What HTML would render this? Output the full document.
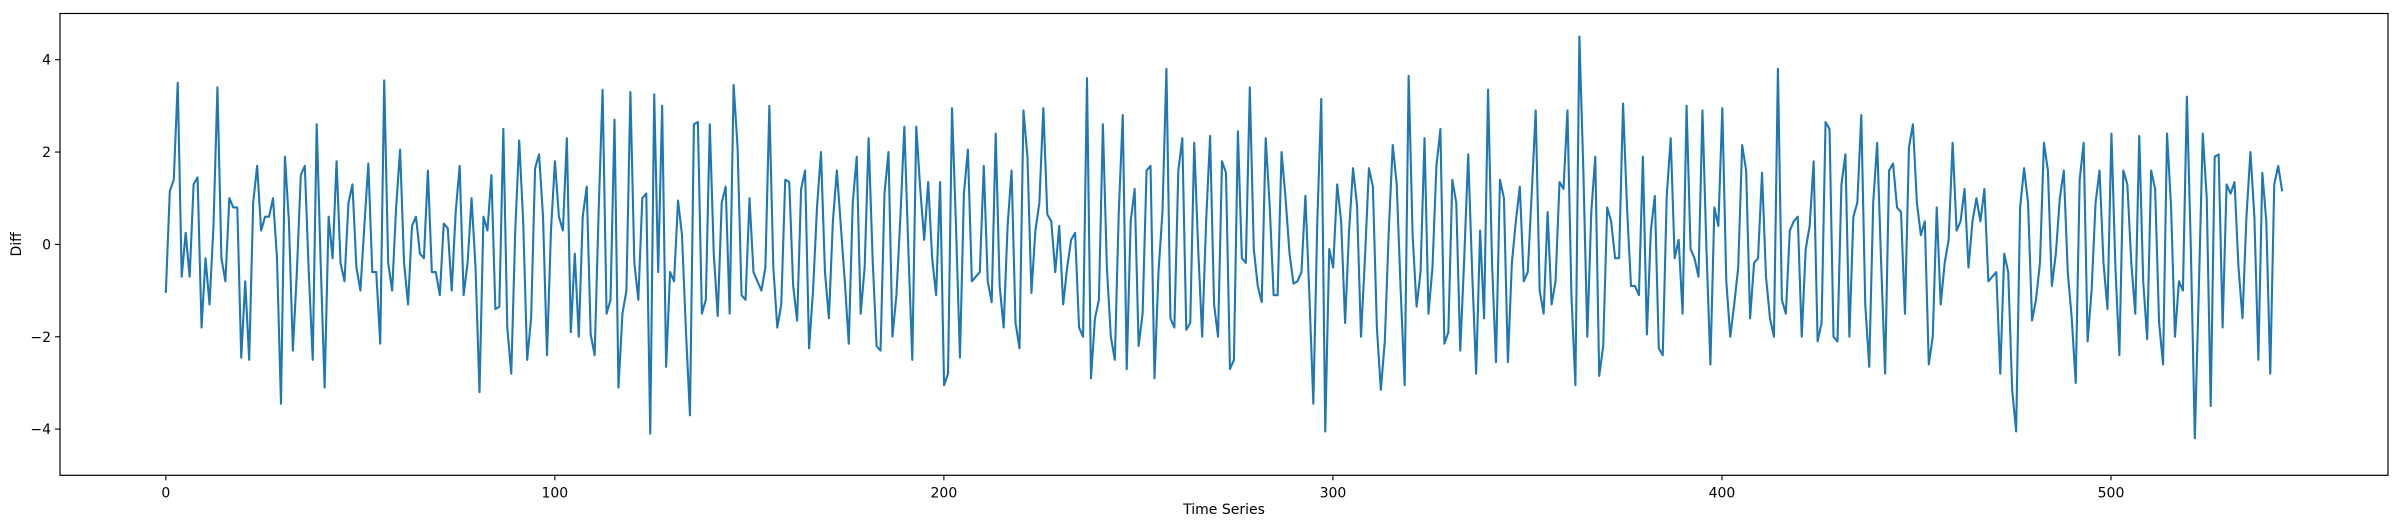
<!DOCTYPE html>
<html><head><meta charset="utf-8"><style>
html,body{margin:0;padding:0;background:#fff;}
svg{display:block;font-family:"DejaVu Sans","Liberation Sans",sans-serif;}
</style></head><body>
<svg id="chart" width="2398" height="528" viewBox="0 0 2398 528" xmlns="http://www.w3.org/2000/svg"></svg>
<script>
const xTicks = [0, 100, 200, 300, 400, 500];
const yTicks = [-4, -2, 0, 2, 4];
const diffValues = [-1.05,1.15,1.4,3.5,-0.7,0.25,-0.7,1.3,1.45,-1.8,-0.3,-1.3,0.4,3.4,-0.3,-0.8,1.0,0.8,0.8,-2.45,-0.8,-2.5,0.9,1.7,0.3,0.6,0.6,1.0,-0.3,-3.45,1.9,0.5,-2.3,-0.6,1.5,1.7,-0.6,-2.5,2.6,-0.4,-3.1,0.6,-0.3,1.8,-0.4,-0.8,0.9,1.3,-0.5,-1.0,0.4,1.75,-0.6,-0.6,-2.15,3.55,-0.4,-1.0,0.8,2.05,-0.4,-1.3,0.4,0.6,-0.2,-0.3,1.6,-0.6,-0.6,-1.1,0.45,0.35,-1.0,0.7,1.7,-1.1,-0.4,1.0,-0.5,-3.2,0.6,0.3,1.5,-1.4,-1.35,2.5,-1.8,-2.8,0.3,2.25,0.5,-2.5,-1.6,1.65,1.95,0.6,-2.4,0.3,1.8,0.6,0.3,2.3,-1.9,-0.2,-2.0,0.6,1.25,-1.95,-2.4,0.7,3.35,-1.5,-1.2,2.7,-3.1,-1.5,-1.0,3.3,-0.4,-1.2,1.0,1.1,-4.1,3.25,-0.6,3.0,-2.65,-0.6,-0.8,0.95,0.2,-1.9,-3.7,2.6,2.65,-1.5,-1.2,2.6,-0.2,-1.55,0.9,1.25,-1.5,3.45,2.1,-1.1,-1.2,1.0,-0.6,-0.8,-1.0,-0.5,3.0,-0.5,-1.8,-1.3,1.4,1.35,-0.9,-1.65,1.2,1.6,-2.25,-1.0,0.8,2.0,-0.6,-1.6,0.5,1.6,0.4,-0.8,-2.15,0.9,1.9,-1.5,-0.5,2.3,-0.3,-2.2,-2.3,1.1,2.0,-2.0,-1.1,0.6,2.55,-0.1,-2.5,2.55,1.2,0.1,1.35,-0.3,-1.1,1.35,-3.05,-2.8,2.95,0.4,-2.45,1.1,2.05,-0.8,-0.7,-0.6,1.7,-0.8,-1.25,2.4,-0.9,-1.8,0.4,1.6,-1.7,-2.25,2.9,1.9,-1.05,0.3,0.9,2.95,0.65,0.5,-0.6,0.4,-1.3,-0.5,0.1,0.25,-1.8,-2.0,3.6,-2.9,-1.6,-1.2,2.6,-0.5,-2.0,-2.5,0.7,2.8,-2.7,0.5,1.2,-2.2,-1.5,1.6,1.7,-2.9,-0.6,0.7,3.8,-1.6,-1.8,1.6,2.3,-1.85,-1.7,2.2,-0.1,-2.0,0.5,2.35,-1.3,-2.0,1.8,1.55,-2.7,-2.5,2.45,-0.3,-0.4,3.4,-0.1,-0.9,-1.25,2.3,0.85,-1.1,-1.1,2.0,1.0,-0.2,-0.85,-0.8,-0.6,1.05,-1.1,-3.45,0.5,3.15,-4.05,-0.1,-0.5,1.3,0.5,-1.7,0.3,1.65,0.85,-2.0,-0.3,1.65,1.25,-1.8,-3.15,-2.1,0.3,2.15,1.3,-1.0,-3.05,3.65,0.2,-1.35,-0.6,2.3,-1.5,-0.5,1.7,2.5,-2.15,-1.9,1.4,0.9,-2.3,-0.3,1.95,-0.6,-2.8,0.3,-1.6,3.35,-0.4,-2.55,1.4,1.0,-2.55,-0.4,0.5,1.25,-0.8,-0.6,1.1,2.9,-1.0,-1.5,0.7,-1.3,-0.8,1.35,1.2,2.9,-1.1,-3.05,4.5,1.6,-2.0,0.7,1.9,-2.85,-2.2,0.8,0.5,-0.3,-0.3,3.05,0.8,-0.9,-0.9,-1.1,1.9,-1.95,0.3,1.05,-2.25,-2.4,1.05,2.3,-0.3,0.1,-1.5,3.0,-0.1,-0.3,-0.7,2.9,-0.1,-2.6,0.8,0.4,2.95,-0.8,-2.0,-1.3,-0.5,2.15,1.6,-1.6,-0.4,-0.3,1.55,-0.7,-1.6,-2.0,3.8,-1.2,-1.5,0.3,0.5,0.6,-2.0,-0.1,0.4,1.8,-2.1,-1.7,2.65,2.5,-2.0,-2.1,1.3,1.95,-2.0,0.6,0.9,2.8,-1.3,-2.65,0.9,2.2,-0.4,-2.8,1.6,1.75,0.8,0.7,-1.5,2.1,2.6,0.9,0.2,0.5,-2.6,-2.0,0.8,-1.3,-0.4,0.1,2.2,0.3,0.5,1.2,-0.5,0.5,1.0,0.5,1.2,-0.8,-0.7,-0.6,-2.8,-0.2,-0.6,-3.15,-4.05,0.8,1.65,0.9,-1.65,-1.2,-0.4,2.2,1.6,-0.9,-0.2,1.0,1.6,-0.6,-1.6,-3.0,1.4,2.2,-2.1,-1.0,0.9,1.6,-0.4,-1.4,2.4,-0.5,-2.4,1.6,1.3,-0.4,-1.5,2.35,-0.8,-2.05,1.6,1.2,-1.7,-2.6,2.4,0.85,-2.0,-0.8,-1.0,3.2,-0.1,-4.2,-1.0,2.4,1.0,-3.5,1.9,1.95,-1.8,1.3,1.1,1.35,-0.5,-1.6,0.6,2.0,0.6,-2.5,1.55,0.5,-2.8,1.3,1.7,1.15];
const xMaxIndex = 544;

const NS = "http://www.w3.org/2000/svg";
const svg = document.getElementById("chart");
const L = 60, R = 2388, T = 13.5, B = 475.3;
const xMin = -27.2, xMax = 571.2, yMin = -5, yMax = 5;
function xs(v){ return L + (v - xMin) / (xMax - xMin) * (R - L); }
function ys(v){ return B - (v - yMin) / (yMax - yMin) * (B - T); }
function mk(tag, attrs){ const e = document.createElementNS(NS, tag); for (const k in attrs) e.setAttribute(k, attrs[k]); svg.appendChild(e); return e; }

const n = diffValues.length;
let d = "";
diffValues.forEach((v, i) => {
  const xv = n > 1 ? i * xMaxIndex / (n - 1) : 0;
  d += (i ? "L" : "M") + xs(xv).toFixed(2) + "," + ys(v).toFixed(2);
});
const line = mk("path", {d: d, fill: "none", stroke: "#1f77b4", "stroke-width": "2.1", "stroke-linejoin": "round"});



const frame = mk("rect", {x: L, y: T, width: R - L, height: B - T, fill: "none", stroke: "#000", "stroke-width": "1.2"});



xTicks.forEach(t => {
  const x = xs(t);
  const tk = mk("line", {x1: x, x2: x, y1: B, y2: B + 5, stroke: "#000", "stroke-width": "1.1"});
  
  
  const tx = mk("text", {x: x, y: B + 22, "font-size": "14", "text-anchor": "middle", fill: "#000"});
  tx.textContent = String(t);
  
  
});
yTicks.forEach(t => {
  const y = ys(t);
  const tk = mk("line", {x1: L - 5, x2: L, y1: y, y2: y, stroke: "#000", "stroke-width": "1.1"});
  
  
  const tx = mk("text", {x: L - 9, y: y + 5, "font-size": "14", "text-anchor": "end", fill: "#000"});
  tx.textContent = t < 0 ? "\u2212" + Math.abs(t) : String(t);
  
  
});
const xl = mk("text", {x: (L + R) / 2, y: 514, "font-size": "14", "text-anchor": "middle", fill: "#000"});
xl.textContent = "Time Series";


const yl = mk("text", {x: 0, y: 0, "font-size": "14", "text-anchor": "middle", fill: "#000", transform: "translate(21," + ys(0) + ") rotate(-90)"});
yl.textContent = "Diff";


</script>
</body></html>
